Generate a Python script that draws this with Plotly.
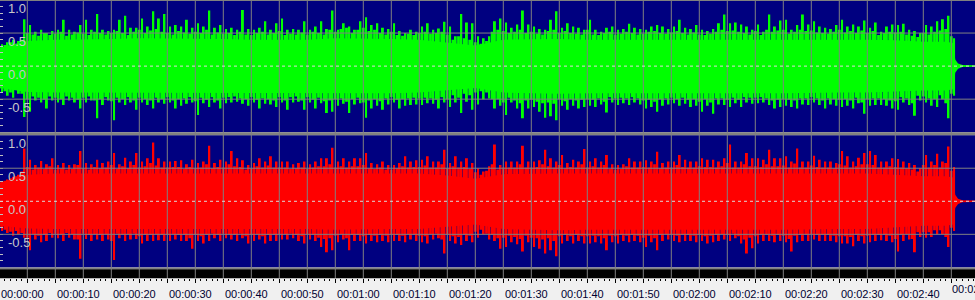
import plotly.graph_objects as go

# ---------------- data ----------------
# one-second windows (start times, s)
SEC_T = list(range(-5, 166))

# tallest spike in each window
TOP_POS = [
    0.33, 0.36, 0.40, 0.38, 0.71,
    0.62, 0.52, 0.55, 0.50, 0.53, 0.55, 0.70, 0.55, 0.52, 0.62,
    0.70, 0.55, 0.79, 0.55, 0.53, 0.55, 0.70, 0.76, 0.58, 0.58,
    0.72, 0.60, 0.83, 0.72, 0.79, 0.60, 0.62, 0.60, 0.70, 0.58,
    0.65, 0.60, 0.84, 0.58, 0.62, 0.56, 0.58, 0.55, 0.85, 0.56,
    0.55, 0.58, 0.68, 0.55, 0.65, 0.72, 0.55, 0.56, 0.55, 0.68,
    0.55, 0.60, 0.68, 0.56,
    0.84, 0.55, 0.65, 0.60, 0.55, 0.68,
    0.74, 0.62, 0.65, 0.58, 0.56, 0.65, 0.53, 0.50, 0.55, 0.52,
    0.60, 0.65, 0.55, 0.57, 0.67, 0.60, 0.45, 0.79, 0.66, 0.65,
    0.45, 0.42, 0.45, 0.68, 0.72, 0.66, 0.58, 0.63, 0.84, 0.63,
    0.60, 0.56, 0.55, 0.70, 0.83, 0.58, 0.65, 0.60, 0.58, 0.55,
    0.70, 0.55, 0.52, 0.58, 0.60, 0.55, 0.56, 0.64, 0.58, 0.56, 0.55,
    0.60, 0.62, 0.60, 0.56, 0.60, 0.70, 0.58, 0.56, 0.62, 0.55,
    0.53, 0.56, 0.65, 0.78, 0.65, 0.66, 0.63, 0.60, 0.55, 0.63,
    0.52, 0.78, 0.60, 0.69, 0.70, 0.55, 0.62, 0.78, 0.63, 0.68,
    0.60, 0.58, 0.56, 0.62, 0.70, 0.60, 0.63, 0.60, 0.69, 0.58,
    0.66, 0.52, 0.60, 0.63, 0.62, 0.64, 0.55, 0.53, 0.50, 0.62,
    0.60, 0.68, 0.71, 0.76, 0.42,
]
TOP_NEG = [
    -0.40, -0.45, -0.48, -0.42, -0.77,
    -0.69, -0.52, -0.55, -0.64, -0.52, -0.55, -0.59, -0.52, -0.55, -0.64,
    -0.55, -0.52, -0.79, -0.59, -0.52, -0.82, -0.55, -0.59, -0.55, -0.66,
    -0.55, -0.59, -0.64, -0.55, -0.57, -0.55, -0.64, -0.60, -0.57, -0.55,
    -0.74, -0.56, -0.62, -0.55, -0.64, -0.56, -0.55, -0.54, -0.57, -0.60,
    -0.55, -0.64, -0.57, -0.58, -0.62, -0.55, -0.66, -0.55, -0.54, -0.66,
    -0.55, -0.64, -0.56, -0.71,
    -0.69, -0.60, -0.57, -0.71, -0.58, -0.56,
    -0.78, -0.64, -0.60, -0.66, -0.58, -0.55, -0.64, -0.60, -0.59, -0.58,
    -0.59, -0.56, -0.57, -0.64, -0.55, -0.62, -0.55, -0.71, -0.54, -0.66,
    -0.58, -0.50, -0.49, -0.64, -0.60, -0.74, -0.55, -0.64, -0.79, -0.64,
    -0.62, -0.69, -0.78, -0.76, -0.82, -0.60, -0.66, -0.60, -0.64, -0.62,
    -0.60, -0.62, -0.58, -0.70, -0.55, -0.59, -0.56, -0.59, -0.55, -0.58, -0.64,
    -0.62, -0.69, -0.60, -0.58, -0.56, -0.60, -0.57, -0.62, -0.60, -0.69,
    -0.60, -0.72, -0.58, -0.59, -0.62, -0.56, -0.62, -0.55, -0.57, -0.56,
    -0.55, -0.59, -0.64, -0.62, -0.60, -0.62, -0.64, -0.58, -0.59, -0.55,
    -0.59, -0.64, -0.58, -0.60, -0.62, -0.60, -0.64, -0.56, -0.72, -0.60,
    -0.59, -0.59, -0.60, -0.64, -0.66, -0.55, -0.59, -0.75, -0.52, -0.55,
    -0.60, -0.62, -0.50, -0.79, -0.45,
]
BOT_POS = [
    0.30, 0.33, 0.37, 0.40, 0.80,
    0.63, 0.55, 0.61, 0.56, 0.65, 0.55, 0.58, 0.55, 0.56, 0.76,
    0.58, 0.56, 0.63, 0.58, 0.60, 0.73, 0.56, 0.66, 0.60, 0.73,
    0.60, 0.65, 0.89, 0.65, 0.60, 0.60, 0.61, 0.62, 0.56, 0.63,
    0.58, 0.60, 0.84, 0.58, 0.63, 0.60, 0.76, 0.65, 0.62, 0.55,
    0.58, 0.65, 0.60, 0.68, 0.60, 0.60, 0.60, 0.56, 0.58, 0.60,
    0.56, 0.60, 0.65, 0.65,
    0.81, 0.60, 0.65, 0.60, 0.65, 0.65,
    0.73, 0.58, 0.56, 0.60, 0.55, 0.55, 0.58, 0.68, 0.60, 0.62,
    0.63, 0.68, 0.60, 0.60, 0.78, 0.58, 0.68, 0.60, 0.65, 0.58,
    0.50, 0.45, 0.53, 0.86, 0.55, 0.60, 0.60, 0.60, 0.84, 0.60,
    0.60, 0.62, 0.78, 0.65, 0.60, 0.70, 0.58, 0.63, 0.60, 0.79,
    0.60, 0.65, 0.60, 0.70, 0.56, 0.55, 0.56, 0.65, 0.60, 0.60, 0.62,
    0.60, 0.75, 0.58, 0.60, 0.60, 0.70, 0.63, 0.60, 0.60, 0.65,
    0.63, 0.63, 0.60, 0.65, 0.86, 0.60, 0.60, 0.73, 0.65, 0.65,
    0.63, 0.78, 0.65, 0.65, 0.68, 0.60, 0.80, 0.60, 0.60, 0.69,
    0.63, 0.60, 0.60, 0.58, 0.76, 0.68, 0.60, 0.66, 0.73, 0.76,
    0.70, 0.60, 0.60, 0.65, 0.64, 0.60, 0.58, 0.55, 0.50, 0.70,
    0.60, 0.72, 0.60, 0.83, 0.52,
]
BOT_NEG = [
    -0.45, -0.48, -0.52, -0.50, -0.55,
    -0.74, -0.58, -0.62, -0.60, -0.55, -0.56, -0.60, -0.55, -0.58, -0.87,
    -0.57, -0.60, -0.58, -0.60, -0.58, -0.89, -0.56, -0.60, -0.58, -0.57,
    -0.64, -0.60, -0.60, -0.59, -0.60, -0.60, -0.58, -0.60, -0.60, -0.72,
    -0.60, -0.64, -0.60, -0.56, -0.60, -0.56, -0.58, -0.60, -0.56, -0.64,
    -0.60, -0.58, -0.64, -0.60, -0.60, -0.58, -0.58, -0.56, -0.60, -0.64,
    -0.58, -0.60, -0.69, -0.77,
    -0.74, -0.62, -0.58, -0.74, -0.60, -0.60,
    -0.64, -0.60, -0.62, -0.60, -0.62, -0.60, -0.60, -0.62, -0.58, -0.60,
    -0.62, -0.64, -0.58, -0.56, -0.79, -0.60, -0.64, -0.66, -0.60, -0.62,
    -0.55, -0.50, -0.58, -0.60, -0.72, -0.69, -0.62, -0.65, -0.76, -0.62,
    -0.69, -0.72, -0.79, -0.74, -0.83, -0.64, -0.60, -0.64, -0.60, -0.64,
    -0.64, -0.62, -0.64, -0.74, -0.62, -0.64, -0.60, -0.62, -0.60, -0.62, -0.69,
    -0.62, -0.74, -0.60, -0.58, -0.60, -0.62, -0.60, -0.60, -0.62, -0.60,
    -0.64, -0.62, -0.60, -0.58, -0.60, -0.56, -0.64, -0.79, -0.71, -0.64,
    -0.60, -0.60, -0.62, -0.60, -0.62, -0.76, -0.62, -0.60, -0.60, -0.58,
    -0.60, -0.60, -0.60, -0.62, -0.64, -0.64, -0.68, -0.60, -0.64, -0.62,
    -0.60, -0.59, -0.60, -0.62, -0.76, -0.60, -0.58, -0.77, -0.54, -0.55,
    -0.54, -0.50, -0.50, -0.69, -0.45,
]

# typical (non-spike) fringe level around each window boundary
TOP_FR_POS = [
    0.28, 0.32, 0.36, 0.34, 0.40,
    0.50, 0.48, 0.46, 0.50, 0.47, 0.49, 0.52, 0.46, 0.48, 0.51,
    0.49, 0.47, 0.52, 0.50, 0.48, 0.50, 0.53, 0.50, 0.47, 0.52,
    0.55, 0.50, 0.54, 0.56, 0.52, 0.50, 0.48, 0.53, 0.51, 0.49,
    0.52, 0.50, 0.55, 0.48, 0.51, 0.49, 0.50, 0.47, 0.52, 0.48,
    0.47, 0.50, 0.52, 0.48, 0.50, 0.53, 0.47, 0.49, 0.48, 0.51,
    0.48, 0.52, 0.50, 0.48,
    0.55, 0.52, 0.56, 0.58, 0.50, 0.55,
    0.58, 0.53, 0.55, 0.50, 0.48, 0.52, 0.47, 0.46, 0.49, 0.47,
    0.50, 0.52, 0.49, 0.50, 0.52, 0.48, 0.40, 0.45, 0.42, 0.40,
    0.36, 0.34, 0.38, 0.52, 0.55, 0.53, 0.50, 0.52, 0.55, 0.50,
    0.52, 0.49, 0.48, 0.53, 0.55, 0.50, 0.53, 0.50, 0.49, 0.48,
    0.55, 0.48, 0.47, 0.50, 0.52, 0.48, 0.49, 0.52, 0.50, 0.48, 0.49,
    0.52, 0.53, 0.50, 0.49, 0.51, 0.53, 0.50, 0.48, 0.51, 0.48,
    0.47, 0.49, 0.52, 0.55, 0.53, 0.54, 0.52, 0.50, 0.48, 0.53,
    0.47, 0.55, 0.52, 0.54, 0.55, 0.49, 0.52, 0.55, 0.53, 0.54,
    0.51, 0.50, 0.49, 0.52, 0.55, 0.51, 0.53, 0.50, 0.54, 0.50,
    0.53, 0.47, 0.50, 0.52, 0.51, 0.52, 0.48, 0.46, 0.44, 0.50,
    0.48, 0.52, 0.54, 0.56, 0.45,
]
TOP_FR_NEG = [
    -0.34, -0.38, -0.40, -0.36, -0.42,
    -0.50, -0.46, -0.48, -0.51, -0.46, -0.48, -0.50, -0.46, -0.48, -0.51,
    -0.48, -0.46, -0.52, -0.50, -0.47, -0.53, -0.48, -0.50, -0.47, -0.52,
    -0.48, -0.50, -0.52, -0.48, -0.50, -0.47, -0.52, -0.50, -0.49, -0.47,
    -0.53, -0.48, -0.51, -0.47, -0.52, -0.48, -0.47, -0.46, -0.49, -0.50,
    -0.47, -0.51, -0.49, -0.50, -0.52, -0.47, -0.52, -0.47, -0.46, -0.52,
    -0.47, -0.51, -0.48, -0.53,
    -0.52, -0.50, -0.49, -0.54, -0.50, -0.48,
    -0.55, -0.52, -0.50, -0.53, -0.49, -0.47, -0.51, -0.50, -0.49, -0.48,
    -0.49, -0.48, -0.49, -0.51, -0.47, -0.50, -0.44, -0.48, -0.42, -0.44,
    -0.40, -0.38, -0.40, -0.50, -0.50, -0.55, -0.48, -0.52, -0.56, -0.52,
    -0.51, -0.54, -0.56, -0.55, -0.57, -0.50, -0.53, -0.50, -0.52, -0.51,
    -0.50, -0.51, -0.49, -0.54, -0.47, -0.49, -0.48, -0.49, -0.47, -0.49, -0.52,
    -0.51, -0.54, -0.50, -0.49, -0.48, -0.50, -0.48, -0.51, -0.50, -0.54,
    -0.50, -0.55, -0.49, -0.49, -0.51, -0.48, -0.51, -0.47, -0.48, -0.48,
    -0.47, -0.49, -0.52, -0.51, -0.50, -0.51, -0.52, -0.49, -0.49, -0.47,
    -0.49, -0.52, -0.49, -0.50, -0.51, -0.50, -0.52, -0.48, -0.55, -0.50,
    -0.49, -0.49, -0.50, -0.52, -0.53, -0.47, -0.49, -0.56, -0.45, -0.46,
    -0.49, -0.50, -0.44, -0.56, -0.42,
]
BOT_FR_POS = [
    0.28, 0.31, 0.35, 0.38, 0.45,
    0.52, 0.48, 0.51, 0.49, 0.53, 0.48, 0.50, 0.48, 0.49, 0.55,
    0.50, 0.48, 0.52, 0.50, 0.51, 0.55, 0.49, 0.53, 0.50, 0.55,
    0.51, 0.53, 0.58, 0.54, 0.51, 0.51, 0.52, 0.52, 0.49, 0.52,
    0.50, 0.51, 0.56, 0.50, 0.52, 0.51, 0.56, 0.53, 0.52, 0.48,
    0.50, 0.53, 0.51, 0.54, 0.51, 0.51, 0.51, 0.49, 0.50, 0.51,
    0.49, 0.51, 0.53, 0.53,
    0.56, 0.51, 0.53, 0.51, 0.53, 0.53,
    0.55, 0.50, 0.49, 0.51, 0.48, 0.48, 0.50, 0.53, 0.51, 0.52,
    0.52, 0.54, 0.51, 0.51, 0.56, 0.50, 0.53, 0.51, 0.52, 0.49,
    0.44, 0.40, 0.46, 0.56, 0.48, 0.51, 0.51, 0.51, 0.56, 0.51,
    0.51, 0.52, 0.56, 0.53, 0.51, 0.55, 0.50, 0.52, 0.51, 0.56,
    0.51, 0.53, 0.51, 0.55, 0.49, 0.48, 0.49, 0.53, 0.51, 0.51, 0.52,
    0.51, 0.56, 0.50, 0.51, 0.51, 0.55, 0.52, 0.51, 0.51, 0.53,
    0.52, 0.52, 0.51, 0.53, 0.58, 0.51, 0.51, 0.56, 0.53, 0.53,
    0.52, 0.56, 0.53, 0.53, 0.54, 0.51, 0.57, 0.51, 0.51, 0.54,
    0.52, 0.51, 0.51, 0.50, 0.56, 0.54, 0.51, 0.53, 0.56, 0.56,
    0.55, 0.51, 0.51, 0.53, 0.52, 0.51, 0.50, 0.48, 0.45, 0.55,
    0.51, 0.55, 0.51, 0.58, 0.46,
]
BOT_FR_NEG = [
    -0.40, -0.43, -0.46, -0.45, -0.48,
    -0.55, -0.50, -0.52, -0.51, -0.48, -0.49, -0.51, -0.48, -0.50, -0.58,
    -0.49, -0.51, -0.50, -0.51, -0.50, -0.60, -0.49, -0.51, -0.50, -0.49,
    -0.53, -0.51, -0.51, -0.50, -0.51, -0.51, -0.50, -0.51, -0.51, -0.56,
    -0.51, -0.53, -0.51, -0.49, -0.51, -0.49, -0.50, -0.51, -0.49, -0.53,
    -0.51, -0.50, -0.53, -0.51, -0.51, -0.50, -0.50, -0.49, -0.51, -0.53,
    -0.50, -0.51, -0.55, -0.57,
    -0.56, -0.52, -0.50, -0.56, -0.51, -0.51,
    -0.53, -0.51, -0.52, -0.51, -0.52, -0.51, -0.51, -0.52, -0.50, -0.51,
    -0.52, -0.53, -0.50, -0.49, -0.58, -0.51, -0.53, -0.54, -0.51, -0.52,
    -0.46, -0.43, -0.49, -0.51, -0.56, -0.55, -0.52, -0.54, -0.57, -0.52,
    -0.55, -0.56, -0.58, -0.56, -0.60, -0.53, -0.51, -0.53, -0.51, -0.53,
    -0.53, -0.52, -0.53, -0.56, -0.52, -0.53, -0.51, -0.52, -0.51, -0.52, -0.55,
    -0.52, -0.56, -0.51, -0.50, -0.51, -0.52, -0.51, -0.51, -0.52, -0.51,
    -0.53, -0.52, -0.51, -0.50, -0.51, -0.49, -0.53, -0.58, -0.55, -0.53,
    -0.51, -0.51, -0.52, -0.51, -0.52, -0.57, -0.52, -0.51, -0.51, -0.50,
    -0.51, -0.51, -0.51, -0.52, -0.53, -0.53, -0.54, -0.51, -0.53, -0.52,
    -0.51, -0.51, -0.51, -0.52, -0.57, -0.51, -0.50, -0.57, -0.47, -0.47,
    -0.47, -0.44, -0.44, -0.54, -0.40,
]

# solid core of the waveform (coarser time resolution)
CORE_T = list(range(-5, 161, 5)) + [164, 165.4, 165.7, 166.2, 167, 170]
TOP_CORE_POS = [0.28, 0.38, 0.40, 0.40, 0.41, 0.42, 0.42, 0.41, 0.41, 0.40, 0.40, 0.40,
                0.42, 0.42, 0.41, 0.40, 0.36, 0.31, 0.40, 0.41, 0.41, 0.40, 0.40, 0.41,
                0.41, 0.40, 0.41, 0.41, 0.41, 0.41, 0.40, 0.40, 0.39, 0.37,
                0.37, 0.35, 0.10, 0.04, 0.015, 0.01]
TOP_CORE_NEG = [-0.33, -0.39, -0.40, -0.40, -0.41, -0.41, -0.41, -0.41, -0.41, -0.40, -0.40, -0.40,
                -0.41, -0.41, -0.41, -0.40, -0.37, -0.33, -0.40, -0.41, -0.42, -0.41, -0.41, -0.41,
                -0.41, -0.40, -0.41, -0.41, -0.41, -0.41, -0.40, -0.40, -0.39, -0.37,
                -0.37, -0.35, -0.10, -0.04, -0.015, -0.01]
BOT_CORE_POS = [0.28, 0.40, 0.42, 0.42, 0.43, 0.43, 0.43, 0.43, 0.42, 0.42, 0.42, 0.42,
                0.43, 0.43, 0.42, 0.42, 0.39, 0.34, 0.41, 0.42, 0.42, 0.42, 0.42, 0.42,
                0.42, 0.42, 0.43, 0.43, 0.43, 0.42, 0.42, 0.42, 0.40, 0.38,
                0.38, 0.36, 0.10, 0.04, 0.015, 0.01]
BOT_CORE_NEG = [-0.37, -0.41, -0.42, -0.42, -0.43, -0.43, -0.43, -0.43, -0.42, -0.42, -0.42, -0.42,
                -0.43, -0.43, -0.42, -0.42, -0.39, -0.35, -0.42, -0.43, -0.44, -0.43, -0.43, -0.43,
                -0.43, -0.42, -0.43, -0.43, -0.43, -0.43, -0.42, -0.42, -0.40, -0.37,
                -0.37, -0.35, -0.10, -0.04, -0.015, -0.01]

# axes / ticks
GRID_T = list(range(0, 166, 5))
TIME_LABELS = ["00:%02d:%02d" % (t // 60, t % 60) if t % 10 == 0 else "" for t in GRID_T]
LAST_LABEL = "00:02:50"
Y_TICKS = [-0.5, 0.0, 0.5, 1.0]
Y_LABELS = ["-0.5", "0.0", "0.5", "1.0"]
H_GRID = [-0.5, 0.5]

# ---------------- style ----------------
X_RANGE = [-4.875, 169.23]
BG = "#000080"
GRID = "#808080"
FONT = "Liberation Sans, Arial, sans-serif"
TOP_DOM = [1 - 134 / 300, 1.0]
BOT_DOM = [1 - 271 / 300, 1 - 137 / 300]
AXIS_Y = 1 - 282 / 300

fig = go.Figure()
channels = [
    (TOP_POS, TOP_NEG, TOP_FR_POS, TOP_FR_NEG, TOP_CORE_POS, TOP_CORE_NEG, "#00ff00", "x", "y"),
    (BOT_POS, BOT_NEG, BOT_FR_POS, BOT_FR_NEG, BOT_CORE_POS, BOT_CORE_NEG, "#ff0000", "x2", "y2"),
]
peak_x = [t + 0.5 for t in SEC_T]
for pos, neg, fpos, fneg, cpos, cneg, col, xa, ya in channels:
    fig.add_trace(go.Scatter(
        x=CORE_T + CORE_T[::-1], y=cpos + cneg[::-1], fill="toself",
        fillcolor=col, mode="lines", line=dict(width=0, color=col),
        xaxis=xa, yaxis=ya, hoverinfo="skip", showlegend=False))
    fig.add_trace(go.Bar(
        x=SEC_T, y=[p - n for p, n in zip(fpos, fneg)], base=fneg, width=0.5,
        marker=dict(color=col, line=dict(width=0)),
        xaxis=xa, yaxis=ya, hoverinfo="skip", showlegend=False))
    fig.add_trace(go.Bar(
        x=peak_x, y=[p - n for p, n in zip(pos, neg)], base=neg, width=0.34,
        marker=dict(color=col, line=dict(width=0)),
        xaxis=xa, yaxis=ya, hoverinfo="skip", showlegend=False))

yaxis_common = dict(
    range=[-1, 1], tickmode="array", tickvals=Y_TICKS, ticktext=[""] * len(Y_TICKS),
    ticks="inside", ticklen=3, tickcolor="#c0c0c0", tickwidth=1,
    minor=dict(ticks="inside", ticklen=3, tickcolor="#c0c0c0", dtick=0.1, tick0=0),
    showgrid=False, zeroline=False, showline=False, fixedrange=True,
)

fig.update_layout(
    width=975, height=300, margin=dict(l=0, r=0, t=0, b=0),
    paper_bgcolor="#f0f0f0", plot_bgcolor=BG, barmode="overlay",
    showlegend=False,
    xaxis=dict(domain=[0, 1], range=X_RANGE, anchor="y", showticklabels=False,
               showgrid=False, zeroline=False, ticks=""),
    yaxis=dict(domain=TOP_DOM, anchor="x", **yaxis_common),
    xaxis2=dict(domain=[0, 1], range=X_RANGE, anchor="free", position=AXIS_Y,
                matches="x", tickmode="array", tickvals=GRID_T, ticktext=TIME_LABELS,
                ticks="outside", ticklen=4, tickcolor="#000000", tickwidth=1,
                minor=dict(tickmode="linear", tick0=0, dtick=1, ticks="outside",
                           ticklen=2, tickcolor="#000000"),
                ticklabelshift=-5, ticklabelstandoff=2, ticklabeloverflow="allow",
                tickfont=dict(family=FONT, size=11, color="#000030"),
                showgrid=False, zeroline=False, showline=False),
    yaxis2=dict(domain=BOT_DOM, anchor="x2", **yaxis_common),
)

shapes = []
# separator, top edge, black time bar
shapes.append(dict(type="rect", xref="paper", yref="paper", x0=0, x1=1,
                   y0=TOP_DOM[0] - 3 / 300, y1=TOP_DOM[0], fillcolor=GRID, line_width=0, layer="above"))
shapes.append(dict(type="rect", xref="paper", yref="paper", x0=0, x1=1,
                   y0=1 - 1 / 300, y1=1, fillcolor=GRID, line_width=0, layer="above"))
shapes.append(dict(type="rect", xref="paper", yref="paper", x0=0, x1=1,
                   y0=BOT_DOM[0] - 2 / 300, y1=BOT_DOM[0], fillcolor=GRID, line_width=0, layer="above"))
shapes.append(dict(type="rect", xref="paper", yref="paper", x0=0, x1=1,
                   y0=AXIS_Y, y1=BOT_DOM[0] - 2 / 300, fillcolor="#000000", line_width=0, layer="above"))
# vertical grid lines (over the waveform and through the time bar)
for t in GRID_T:
    shapes.append(dict(type="line", xref="x", yref="paper", x0=t, x1=t,
                       y0=AXIS_Y, y1=1, line=dict(color=GRID, width=1), layer="above"))
# horizontal grid lines and dashed zero lines
for ya in ["y", "y2"]:
    for v in H_GRID:
        shapes.append(dict(type="line", xref="paper", yref=ya, x0=0, x1=1, y0=v, y1=v,
                           line=dict(color=GRID, width=1), layer="above"))
    shapes.append(dict(type="line", xref="paper", yref=ya, x0=0, x1=1, y0=0, y1=0,
                       line=dict(color="#e0d8d8", width=1, dash="3px,3px"), layer="above"))
fig.update_layout(shapes=shapes)

# amplitude labels, drawn inside each panel just below their grid line
for ya in ["y", "y2"]:
    for v, lab in zip(Y_TICKS, Y_LABELS):
        fig.add_annotation(text=lab, xref="paper", yref=ya, x=6 / 975, y=v,
                           xanchor="left", yanchor="top", yshift=1, showarrow=False,
                           font=dict(family=FONT, size=13, color="#c8c8c8"))

fig.add_annotation(text=LAST_LABEL, xref="paper", yref="paper", x=950 / 975, y=7 / 300,
                   xanchor="left", yanchor="middle", showarrow=False,
                   font=dict(family=FONT, size=11, color="#000030"))

fig.write_html("out.html")
